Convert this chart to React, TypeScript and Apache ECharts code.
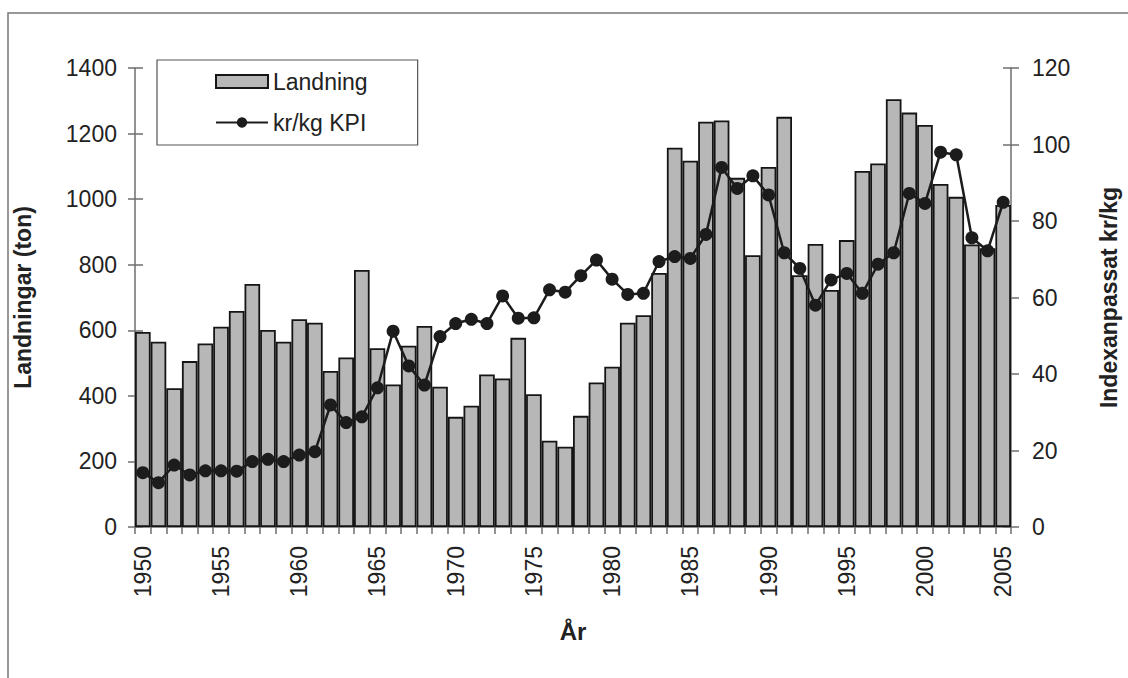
import React, { useEffect, useRef } from "react";
import * as echarts from "echarts";

// Years on the category axis
const years: string[] = [];
for (let y = 1950; y <= 2005; y++) years.push(String(y));

// Landings in tonnes, 1950–2005
const landning: number[] = [
  595, 565, 423, 506, 560, 611, 659, 741, 601, 565,
  634, 623, 476, 517, 784, 545, 435, 553, 613, 428,
  336, 370, 465, 453, 577, 405, 263, 245, 339, 441,
  489, 623, 646, 775, 1157, 1117, 1236, 1240, 1065, 829,
  1098, 1251, 768, 863, 723, 875, 1086, 1109, 1305, 1264,
  1226, 1046, 1007, 862, 850, 982,
];

// Price in kr/kg, adjusted by the consumer price index
const krPerKg: number[] = [
  14.2, 11.6, 16.2, 13.6, 14.7, 14.7, 14.6, 17.1, 17.7, 17.1,
  18.8, 19.7, 31.9, 27.3, 28.8, 36.4, 51.2, 42.1, 37.1, 49.8,
  53.2, 54.3, 53.2, 60.4, 54.6, 54.7, 62.0, 61.4, 65.7, 69.8,
  64.8, 60.8, 61.1, 69.4, 70.7, 70.2, 76.5, 94.0, 88.5, 91.8,
  86.8, 71.7, 67.6, 58.0, 64.6, 66.3, 61.1, 68.7, 71.7, 87.2,
  84.6, 98.0, 97.3, 75.6, 72.2, 84.9,
];

const FONT = "'Liberation Sans', Arial, Helvetica, sans-serif";
const TEXT = "#222";
const AXIS = "#6e6e6e";

export default function App() {
  const ref = useRef<HTMLDivElement>(null);

  useEffect(() => {
    document.body.style.margin = "0";
    if (!ref.current) return;
    const chart = echarts.init(ref.current, undefined, { renderer: "svg" });

    const axisLine = { show: true, lineStyle: { color: AXIS, width: 1.5 } };
    const tickStyle = { color: AXIS, width: 1.5 };
    const plain = (v: number) => String(v);
    const label = { color: TEXT, fontFamily: FONT, fontSize: 23 };
    const nameStyle = { color: TEXT, fontFamily: FONT, fontSize: 23, fontWeight: "bold" as const };

    chart.setOption({
      animation: false,
      backgroundColor: "#ffffff",
      textStyle: { fontFamily: FONT },
      grid: { left: 135, right: 112, top: 68, bottom: 151 },
      legend: {
        orient: "vertical",
        left: 157,
        top: 60,
        padding: [10, 50, 11, 58],
        itemGap: 18,
        itemWidth: 52,
        itemHeight: 13,
        borderColor: "#555",
        borderWidth: 1.2,
        textStyle: { color: TEXT, fontFamily: FONT, fontSize: 23 },
        data: [
          { name: "Landning", icon: "rect" },
          { name: "kr/kg KPI" },
        ],
      },
      graphic: [
        {
          type: "rect",
          shape: { x: 8, y: 13, width: 1300, height: 800 },
          style: { fill: "none", stroke: "#777", lineWidth: 1.5 },
          silent: true,
          z: -1,
        },
      ],
      xAxis: {
        type: "category",
        data: years,
        boundaryGap: true,
        name: "År",
        nameLocation: "middle",
        nameGap: 92,
        nameTextStyle: {
          color: TEXT,
          fontFamily: "'Liberation Sans Narrow', 'Liberation Sans', Arial, sans-serif",
          fontSize: 24,
          fontWeight: "bold",
        },
        axisLine,
        axisTick: { show: true, interval: 0, length: 7, lineStyle: tickStyle },
        axisLabel: { ...label, interval: 4, rotate: 90, margin: 19 },
        splitLine: { show: false },
      },
      yAxis: [
        {
          type: "value",
          position: "left",
          min: 0,
          max: 1400,
          interval: 200,
          name: "Landningar (ton)",
          nameLocation: "middle",
          nameRotate: 90,
          nameGap: 101,
          nameTextStyle: nameStyle,
          axisLine,
          axisTick: { show: true, length: 7, lineStyle: tickStyle },
          axisLabel: { ...label, margin: 18, formatter: plain },
          splitLine: { show: false },
        },
        {
          type: "value",
          position: "right",
          min: 0,
          max: 120,
          interval: 20,
          name: "Indexanpassat kr/kg",
          nameLocation: "middle",
          nameRotate: 90,
          nameGap: 86,
          nameTextStyle: nameStyle,
          axisLine,
          axisTick: { show: true, length: 8, lineStyle: tickStyle },
          axisLabel: { ...label, margin: 21, formatter: plain },
          splitLine: { show: false },
        },
        // inner halves of the crossing tick marks
        {
          type: "value",
          position: "left",
          min: 0,
          max: 1400,
          interval: 200,
          axisLine: { show: false },
          axisTick: { show: true, inside: true, length: 8, lineStyle: tickStyle },
          axisLabel: { show: false },
          splitLine: { show: false },
        },
        {
          type: "value",
          position: "right",
          min: 0,
          max: 120,
          interval: 20,
          axisLine: { show: false },
          axisTick: { show: true, inside: true, length: 8, lineStyle: tickStyle },
          axisLabel: { show: false },
          splitLine: { show: false },
        },
      ],
      series: [
        {
          name: "Landning",
          type: "bar",
          yAxisIndex: 0,
          data: landning,
          barCategoryGap: "0%",
          itemStyle: { color: "#b7b7b7", borderColor: "#151515", borderWidth: 1.8 },
          z: 2,
        },
        {
          name: "kr/kg KPI",
          type: "line",
          yAxisIndex: 1,
          data: krPerKg,
          symbol: "circle",
          symbolSize: 13,
          showSymbol: true,
          showAllSymbol: true,
          itemStyle: { color: "#1c1c1c" },
          lineStyle: { color: "#1c1c1c", width: 2.5 },
          z: 3,
        },
      ],
    });

    return () => chart.dispose();
  }, []);

  return <div ref={ref} style={{ width: 1128, height: 678 }} />;
}
